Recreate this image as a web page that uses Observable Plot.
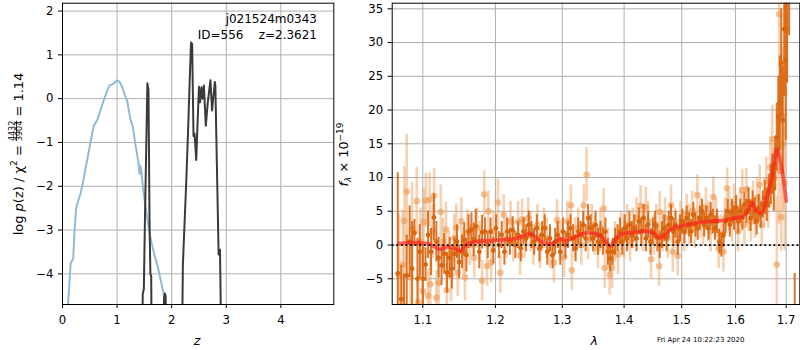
<!DOCTYPE html>
<html><head><meta charset="utf-8">
<script src="https://cdn.jsdelivr.net/npm/d3@7"></script>
<script src="https://cdn.jsdelivr.net/npm/@observablehq/plot@0.6"></script>
<style>
body{margin:0;background:#fff;}
#wrap{position:relative;width:800px;height:350px;background:#fff;font-family:"DejaVu Sans",sans-serif;overflow:hidden;}
#wrap svg{position:absolute;top:0;overflow:visible;}
</style></head><body><div id="wrap"></div>
<script>
// ---------- Left panel: log p(z) ----------
const zTicks = [0, 1, 2, 3, 4];
const logpTicks = [-4, -3, -2, -1, 0, 1, 2];
const blueZ = [0.06,0.13,0.15,0.178,0.195,0.22,0.25,0.30,0.33,0.36,0.39,0.42,0.46,0.52,0.55,0.578,0.64,0.70,0.76,0.80,0.855,0.917,0.95,1.0,1.04,1.09,1.14,1.19,1.24,1.29,1.33,1.365,1.395,1.41,1.42,1.44,1.48,1.53,1.58,1.62,1.68,1.75,1.80,1.86,1.92];
const blueLogP = [-5.5,-4.15,-3.76,-3.69,-3.66,-3.05,-2.5,-2.28,-2.17,-2.0,-1.82,-1.6,-1.35,-0.95,-0.75,-0.61,-0.48,-0.25,-0.02,0.12,0.29,0.33,0.36,0.42,0.39,0.28,0.09,-0.08,-0.45,-0.65,-1.0,-1.26,-1.5,-1.72,-1.52,-1.6,-2.1,-2.55,-2.95,-3.23,-3.55,-3.86,-4.15,-4.5,-5.0];
const blackZ = [1.44,1.47,1.49,1.51,1.555,1.575,1.595,1.61,1.625,1.645,1.83,1.86,1.875,1.89,1.91,2.17,2.205,2.27,2.30,2.33,2.355,2.375,2.40,2.42,2.45,2.47,2.50,2.52,2.545,2.565,2.59,2.625,2.66,2.71,2.74,2.79,2.80,2.86,2.885,2.935];
const blackLogP = [-8,-4.45,-4.35,-2.78,0.35,0.2,-2.9,-4.0,-4.05,-8,-8,-4.55,-4.45,-4.5,-8,-8,-3.8,-1.8,-0.75,0.4,1.28,1.25,-0.85,-0.8,-1.4,-0.7,0.27,-0.08,0.26,0.0,0.3,-0.62,-0.1,0.42,-0.27,0.38,0.3,-3.56,-3.45,-8];

// ---------- Right panel: spectrum [wavelength, flux, error] ----------
const lamTicks = [1.1, 1.2, 1.3, 1.4, 1.5, 1.6, 1.7];
const fluxTicks = [-5, 0, 5, 10, 15, 20, 25, 30, 35];
const darkPoints = [
[1.0675,-4.2,14.9],[1.0719,-8,5],[1.0755,-9,4.7],[1.079,-4.5,6],[1.0828,0.5,5.3],[1.086,-3.5,7],[1.089,1.8,2],[1.093,-5,6],[1.096,-1.0,4],[1.100,-5,5],
[1.1036,-2.9,2.5],[1.107,1.5,3.5],[1.111,-1.0,3.5],[1.1147,4.1,3.5],[1.118,0.5,3],[1.121,-1.9,3],[1.125,-3.0,3],[1.1285,-1.3,3],[1.1323,-4.1,3],[1.136,-1.9,3],
[1.139,-3.5,3],[1.1425,-1.3,2.5],[1.146,0.5,2.5],[1.149,-2.5,2.5],[1.153,-1.0,2.5],[1.156,0.8,2.5],[1.159,-1.5,2.5],[1.162,2.0,2.5],[1.166,2.3,2.5],[1.169,0.8,2.5],
[1.172,2.8,2.5],[1.177,-1.0,2.5],[1.181,1.9,2.5],[1.185,2.0,2],[1.189,0.0,2],[1.193,2.0,2],[1.197,-0.8,2],[1.201,2.5,2],[1.205,0.0,2],[1.209,1.5,2],
[1.213,-1.0,2],[1.217,2.0,2],[1.221,0.5,2],[1.225,2.2,2],[1.229,0.0,2],[1.233,1.5,2],[1.237,-0.5,2],[1.241,2.0,2],[1.245,1.0,2],[1.249,3.0,2],
[1.253,1.5,2],[1.257,0.5,2],[1.261,2.5,2],[1.265,-0.5,2],[1.269,1.5,2],[1.273,2.5,2],[1.277,-1.0,2],[1.281,1.0,2],[1.285,-1.5,2],[1.289,0.5,2],
[1.293,1.5,2],[1.297,-1.0,2],[1.301,2.0,2],[1.305,0.0,2],[1.309,1.5,2],[1.313,2.5,2],[1.317,1.0,2],[1.321,-0.5,2],[1.325,2.0,2],[1.329,1.5,2],
[1.333,3.0,2],[1.337,1.0,2],[1.341,4.0,2],[1.345,2.5,2],[1.349,1.0,2],[1.353,3.0,2],[1.357,0.5,2],[1.361,1.5,2],[1.365,0.5,2],[1.369,2.0,2],
[1.373,-1.0,2],[1.377,-2.0,2],[1.381,-1.0,2],[1.385,0.5,2],[1.389,1.0,2],[1.393,2.0,2],[1.397,0.5,2],[1.401,2.5,2],[1.405,1.0,2],[1.409,3.0,2],
[1.413,1.5,2],[1.417,2.5,2],[1.421,1.0,2],[1.425,3.5,2],[1.429,2.0,2],[1.433,4.0,2],[1.437,1.0,2],[1.441,3.0,2],[1.445,0.5,2],[1.449,2.0,2],
[1.453,3.0,2],[1.457,1.0,2],[1.461,0.0,2],[1.465,1.5,2],[1.469,2.5,2],[1.473,1.0,2],[1.477,3.0,2],[1.481,4.0,2],[1.485,2.0,2],[1.489,3.0,2],
[1.493,0.5,2],[1.497,2.5,2],[1.501,3.5,1.8],[1.505,2.0,1.8],[1.509,4.0,1.8],[1.513,3.0,1.8],[1.517,2.0,1.8],[1.521,4.5,1.8],[1.525,3.0,1.8],[1.529,2.5,1.8],
[1.533,4.0,1.8],[1.537,5.0,1.8],[1.541,3.0,1.8],[1.545,4.0,1.8],[1.549,2.5,1.8],[1.553,4.5,1.8],[1.557,3.5,1.8],[1.561,2.5,1.8],[1.565,3.5,1.8],[1.569,0.5,1.8],
[1.573,0.0,1.8],[1.577,1.5,1.8],[1.581,3.5,1.8],[1.585,5.0,1.8],[1.589,3.0,1.8],[1.593,5.0,1.8],[1.597,4.0,1.8],[1.601,5.5,1.8],[1.605,3.5,1.8],[1.609,5.0,1.8],
[1.613,4.0,1.8],[1.617,6.0,1.8],[1.621,5.0,1.8],[1.625,6.5,2],[1.629,4.0,2],[1.633,6.0,2],[1.637,5.0,2],[1.641,3.5,2],[1.645,5.5,2],[1.649,4.5,2],
[1.653,6.0,2],[1.657,7.0,2.5],[1.661,6.0,2.5],[1.665,8.0,2.5],[1.669,9.0,3],[1.672,10.5,3],[1.675,8.5,3.5],[1.678,12.0,4],[1.681,16.0,5],[1.684,19.0,6],
[1.687,21.0,7],[1.690,27.0,8],[1.693,18.5,8],[1.696,32.0,10],[1.699,27.5,12],[1.702,38.0,14],[1.706,40.0,9],[1.7175,-9.5,5.3]];
const lightPoints = [
[1.069,-4.4,9],[1.074,-2.9,8],[1.076,3.6,8],[1.079,7.9,8.5],[1.084,-4.8,6],[1.086,2.3,7],[1.092,6.5,5],[1.094,-8.5,4],[1.097,0.5,5],[1.100,-6.8,5],
[1.101,3.4,5],[1.104,6.6,4],[1.107,-7.5,4],[1.109,6.7,4],[1.110,-5.8,4],[1.113,2.0,4],[1.115,7.3,4],[1.118,-7.8,4],[1.121,-5.6,4],[1.124,4.9,4],
[1.127,0.5,3.5],[1.131,2.3,4],[1.132,-6.7,4],[1.135,-1.5,3.5],[1.138,-4.4,4],[1.142,1.0,3.5],[1.145,2.6,3.5],[1.147,-4.1,3.5],[1.152,3.5,3.5],[1.155,-1.0,3.5],
[1.157,-4.8,3.5],[1.160,1.8,3.5],[1.164,0.0,3],[1.170,-1.9,3],[1.174,2.5,3],[1.178,0.5,3],[1.181,-5.3,3],[1.184,7.5,3.5],[1.188,-3.1,3],[1.190,5.0,3],
[1.194,-2.6,3],[1.197,2.0,3],[1.2035,6.3,3.5],[1.207,-4.1,3],[1.212,4.5,3],[1.216,1.0,3],[1.222,3.5,3],[1.226,0.5,3],[1.233,3.4,3],[1.236,-1.5,3],
[1.239,3.8,3],[1.243,1.0,3],[1.248,4.0,3],[1.252,2.0,3],[1.256,0.0,3],[1.262,3.0,3],[1.266,-0.5,3],[1.272,2.5,3],[1.276,1.0,3],[1.281,-0.5,3],
[1.287,-2.6,3],[1.292,3.7,3],[1.296,0.5,3],[1.303,-1.8,3],[1.308,3.5,3],[1.3135,5.9,3],[1.315,-3.75,3],[1.320,1.0,3],[1.325,2.5,3],[1.330,0.0,3],
[1.334,5.9,3],[1.3385,10.4,4],[1.341,0.8,3],[1.347,3.0,3],[1.352,1.5,3],[1.357,-0.5,3],[1.361,2.5,3],[1.366,5.4,3],[1.368,-3.4,3],[1.373,-0.5,3],
[1.376,-4.4,3],[1.380,-3.4,3],[1.385,0.5,3],[1.390,-1.4,3],[1.395,2.0,3],[1.400,1.0,3],[1.405,3.0,3],[1.410,0.5,3],[1.415,2.5,3],[1.421,4.0,3],
[1.428,5.8,3],[1.432,2.0,3],[1.437,5.6,3],[1.441,3.5,3],[1.446,-2.1,3],[1.451,1.5,3],[1.455,3.0,3],[1.460,-3.1,3],[1.461,4.9,3],[1.466,2.0,3],
[1.4705,4.0,3],[1.475,1.0,3],[1.481,5.9,3],[1.484,-1.0,3],[1.488,2.5,3],[1.493,-1.6,3],[1.498,3.5,3],[1.504,2.0,3],[1.509,4.5,3],[1.514,3.0,3],
[1.519,5.0,3],[1.524,2.5,3],[1.5285,7.4,3],[1.534,4.0,3],[1.539,3.0,3],[1.544,5.5,3],[1.549,3.5,3],[1.553,2.0,3],[1.558,7.1,3],[1.563,4.0,3],
[1.568,-0.5,3],[1.572,1.5,3],[1.577,-1.0,3],[1.580,4.0,3],[1.584,8.4,3],[1.588,5.0,3],[1.593,3.5,3],[1.597,6.0,3],[1.601,4.5,3],[1.605,2.0,3],
[1.609,5.5,3],[1.613,8.1,3],[1.617,3.0,3],[1.621,8.3,3],[1.625,5.0,3],[1.630,3.5,3],[1.634,6.5,3],[1.638,4.0,3],[1.642,7.0,3],[1.647,8.9,3],
[1.651,3.0,3],[1.656,5.5,3],[1.660,9.5,3.5],[1.664,6.0,3.5],[1.668,11.5,4],[1.672,15.7,5],[1.676,10.0,5],[1.681,-2.9,10],[1.685,11.0,8],[1.686,34.2,8],
[1.688,18.5,8],[1.690,4.1,5],[1.691,19.2,10],[1.694,15.0,10],[1.697,9.2,10],[1.700,32.0,10]];
const modelWave = [1.070,1.105,1.1137,1.1226,1.1316,1.1406,1.150,1.159,1.173,1.201,1.231,1.241,1.251,1.261,1.271,1.284,1.297,1.305,1.315,1.334,1.356,1.364,1.372,1.378,1.383,1.394,1.411,1.434,1.445,1.463,1.469,1.480,1.498,1.528,1.558,1.577,1.596,1.615,1.625,1.631,1.641,1.651,1.661,1.671,1.681,1.688,1.695,1.700];
const modelFlux = [0.25,0.25,-0.15,-0.64,-0.3,-0.4,-0.9,0.1,0.5,0.7,1.0,1.33,1.73,1.0,0.35,0.2,0.93,0.6,1.0,1.73,1.58,1.08,0.2,-0.15,0.6,1.58,1.83,2.07,1.93,1.08,1.33,2.33,2.8,3.3,3.56,3.66,3.95,4.3,5.3,6.3,5.04,4.8,7.0,10.0,14.2,12.4,9.5,6.5];

// ---------- build tables ----------
const blue = blueZ.map((z, i) => ({z, p: blueLogP[i]}));
const black = blackZ.map((z, i) => ({z, p: blackLogP[i]}));
const dark = darkPoints.map(([w, f, e]) => ({w, f, e}));
const light = lightPoints.map(([w, f, e]) => ({w, f, e}));
const model = modelWave.map((w, i) => ({w, f: modelFlux[i]}));

const FONT = 11.7;
const GRID = "#b0b0b0";
const DARK = "#d9650f";
const LIGHT = "#ee9a52";
const fmt = d => d < 0 ? "\u2212" + Math.abs(d) : String(d);
const style = {fontFamily: "DejaVu Sans", fontSize: FONT + "px", background: "transparent", color: "black", overflow: "visible"};

const left = Plot.plot({
  width: 340, height: 350, marginLeft: 62, marginRight: 6.7, marginTop: 2.7, marginBottom: 46,
  style,
  x: {domain: [0, 4.97]},
  y: {domain: [-4.70, 2.18]},
  marks: [
    Plot.ruleX(zTicks, {stroke: GRID, strokeWidth: 1}),
    Plot.ruleY(logpTicks, {stroke: GRID, strokeWidth: 1}),
    Plot.line(blue, {x: "z", y: "p", stroke: "#8fbbd9", strokeWidth: 2, clip: true}),
    Plot.line(black, {x: "z", y: "p", stroke: "#3a3a3a", strokeWidth: 2, clip: true}),
    Plot.frame({stroke: "black"}),
    Plot.axisX({ticks: zTicks, tickSize: 4, tickPadding: 7, label: null, tickFormat: fmt, fontSize: FONT}),
    Plot.axisY({ticks: logpTicks, tickSize: 4, tickPadding: 5, label: null, tickFormat: fmt, fontSize: FONT})
  ]
});

const right = Plot.plot({
  width: 470, height: 350, marginLeft: 61.7, marginRight: 0.7, marginTop: 2.7, marginBottom: 46,
  style,
  x: {type: "log", domain: [1.0604, 1.728]},
  y: {domain: [-8.81, 35.83]},
  marks: [
    Plot.ruleX(lamTicks, {stroke: GRID, strokeWidth: 1}),
    Plot.ruleY(fluxTicks, {stroke: GRID, strokeWidth: 1}),
    Plot.ruleX(light, {x: "w", y1: d => d.f - d.e, y2: d => d.f + d.e, stroke: LIGHT, strokeOpacity: 0.45, strokeWidth: 2.6, clip: true}),
    Plot.dot(light, {x: "w", y: "f", r: 3.3, fill: LIGHT, fillOpacity: 0.6, clip: true}),
    Plot.ruleX(dark, {x: "w", y1: d => d.f - d.e, y2: d => d.f + d.e, stroke: DARK, strokeOpacity: 0.9, strokeWidth: 2, clip: true}),
    Plot.dot(dark, {x: "w", y: "f", r: 2.4, fill: DARK, clip: true}),
    Plot.line(model, {x: "w", y: "f", stroke: "#ff1a1a", strokeOpacity: 0.62, strokeWidth: 3.8, curve: "catmull-rom", clip: true}),
    Plot.ruleY([0], {stroke: "black", strokeWidth: 1.8, strokeDasharray: "1.8,2.8"}),
    Plot.frame({stroke: "black"}),
    Plot.axisX({ticks: lamTicks, tickSize: 4, tickPadding: 7, label: null, tickFormat: d => d.toFixed(1), fontSize: FONT}),
    Plot.axisY({ticks: fluxTicks, tickSize: 4, tickPadding: 5, label: null, tickFormat: fmt, fontSize: FONT})
  ]
});

const wrap = document.getElementById("wrap");
left.style.left = "0px";
right.style.left = "330px";
wrap.appendChild(left);
wrap.appendChild(right);

// ---------- texts ----------
const L = d3.select(left), R = d3.select(right);
const ff = "DejaVu Sans";

// annotation
L.append("text").attr("x", 317).attr("y", 23).attr("text-anchor", "end")
  .attr("font-family", ff).attr("font-size", 12).attr("fill", "black").text("j021524m0343");
L.append("text").attr("x", 317).attr("y", 38.5).attr("text-anchor", "end")
  .attr("font-family", ff).attr("font-size", 12).attr("fill", "black")
  .style("white-space", "pre").text("ID=556    z=2.3621");

// x labels
L.append("text").attr("x", 197).attr("y", 345).attr("text-anchor", "middle")
  .attr("font-family", ff).attr("font-style", "italic").attr("font-size", FONT + 1).attr("fill", "black").text("z");
R.append("text").attr("x", 264.3).attr("y", 345).attr("text-anchor", "middle")
  .attr("font-family", ff).attr("font-style", "italic").attr("font-size", FONT + 1).attr("fill", "black").text("λ");

// date stamp
R.append("text").attr("x", 370.7).attr("y", 341.5).attr("font-family", ff)
  .attr("font-size", 7).attr("fill", "black").text("Fri Apr 24 10:22:23 2020");

// left y label with stacked fraction, one text chunk
const ly = L.append("text").attr("transform", "translate(22.7,154) rotate(-90)").attr("text-anchor", "middle")
  .attr("font-family", ff).attr("font-size", 13).attr("fill", "black");
ly.append("tspan").text("log ");
ly.append("tspan").attr("font-style", "italic").text("p");
ly.append("tspan").text("(z) / χ");
ly.append("tspan").attr("font-size", "0.7em").attr("dy", -5.5).text("2");
ly.append("tspan").attr("dy", 5.5).text(" = ");
ly.append("tspan").attr("font-size", 8).attr("dy", -7.6).attr("text-decoration", "underline").text("4432");
ly.append("tspan").attr("font-size", 8).attr("dx", -20.4).attr("dy", 6.6).text("3904");
ly.append("tspan").attr("dy", 1.0).text(" = 1.14");

// right y label
const ry = R.append("text").attr("transform", "translate(18.3,154.5) rotate(-90)").attr("text-anchor", "middle")
  .attr("font-family", ff).attr("font-size", 12.8).attr("fill", "black");
ry.append("tspan").attr("font-style", "italic").text("f");
ry.append("tspan").attr("font-style", "italic").attr("font-size", "0.7em").attr("dy", 3).text("λ");
ry.append("tspan").attr("dy", -3).text(" × 10");
ry.append("tspan").attr("font-size", "0.7em").attr("dy", -5.5).text("−19");
</script></body></html>
